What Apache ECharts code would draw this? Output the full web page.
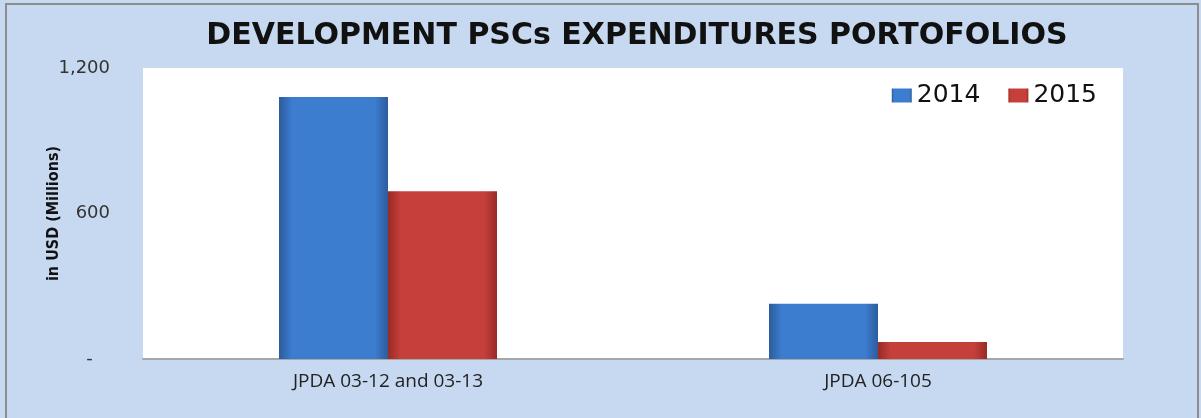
<!DOCTYPE html>
<html>
<head>
<meta charset="utf-8">
<script src="https://cdn.jsdelivr.net/npm/echarts@6/dist/echarts.min.js"></script>
<style>
  html, body { margin: 0; padding: 0; background: #c6d9f0; }
  #main { width: 1201px; height: 418px; }
</style>
</head>
<body>
<div id="main"></div>
<script>
// data
var categories = ['JPDA 03-12 and 03-13', 'JPDA 06-105']
var seriesNames = ['2014', '2015']
var values2014 = [1080, 228]
var values2015 = [692, 70]

var myChart = echarts.init(document.getElementById('main'))

function barGradient(edge, mid) {
  return new echarts.graphic.LinearGradient(0, 0, 1, 0, [
    { offset: 0, color: edge },
    { offset: 0.12, color: mid },
    { offset: 0.88, color: mid },
    { offset: 1, color: edge }
  ])
}

var option = {
  backgroundColor: '#c6d9f0',
  title: {
    text: 'DEVELOPMENT PSCs EXPENDITURES PORTOFOLIOS',
    left: 632,
    top: 16,
    textAlign: 'center',
    textStyle: {
      fontFamily: 'DejaVu Sans',
      fontWeight: 'bold',
      fontSize: 30,
      color: '#111'
    }
  },
  legend: {
    right: 99,
    top: 78,
    icon: 'rect',
    itemWidth: 20,
    itemHeight: 14,
    itemGap: 28,
    textStyle: { fontFamily: 'DejaVu Sans', fontSize: 25, color: '#111' },
    data: seriesNames
  },
  grid: {
    left: 143,
    right: 78,
    top: 68,
    bottom: 59,
    show: true,
    backgroundColor: '#ffffff',
    borderWidth: 0
  },
  xAxis: {
    type: 'category',
    data: categories,
    axisLine: { lineStyle: { color: '#a6a6a6', width: 2 } },
    axisTick: { show: false },
    axisLabel: {
      margin: 13,
      fontFamily: 'Open Sans',
      fontSize: 19,
      color: '#222'
    }
  },
  yAxis: {
    type: 'value',
    min: 0,
    max: 1200,
    interval: 600,
    name: 'in USD (Millions)',
    nameLocation: 'middle',
    nameGap: 81,
    nameMoveOverlap: false,
    nameTextStyle: {
      fontFamily: "'DejaVu Sans Condensed', 'Liberation Sans', sans-serif",
      fontWeight: 'bold',
      fontSize: 16,
      color: '#111'
    },
    axisLine: { show: false },
    axisTick: { show: false },
    splitLine: { show: false },
    axisLabel: {
      margin: 33,
      fontFamily: 'DejaVu Sans',
      fontSize: 18,
      color: '#333',
      formatter: function (v) {
        return v === 0 ? '-   ' : v.toLocaleString('en-US')
      }
    }
  },
  series: [
    {
      name: seriesNames[0],
      type: 'bar',
      data: values2014,
      barWidth: 109,
      barGap: '0%',
      color: '#3b78c9',
      itemStyle: { color: barGradient('#2c5c9c', '#3c7dd0') }
    },
    {
      name: seriesNames[1],
      type: 'bar',
      data: values2015,
      barWidth: 109,
      barGap: '0%',
      color: '#c23b36',
      itemStyle: { color: barGradient('#992a27', '#c6403b') }
    }
  ],
  graphic: [
    {
      type: 'rect',
      shape: { x: 6, y: 4, width: 1192, height: 440 },
      style: { fill: 'none', stroke: '#8c8c8c', lineWidth: 2 },
      silent: true
    }
  ]
}

myChart.setOption(option)
</script>
</body>
</html>
